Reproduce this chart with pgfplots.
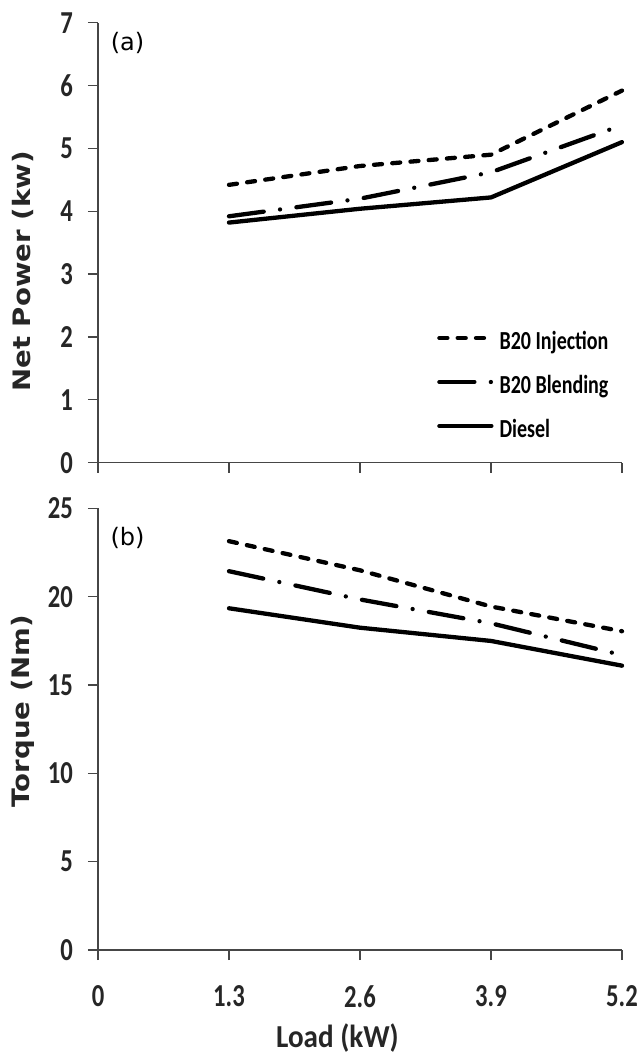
\documentclass[border=0pt]{standalone}
\usepackage{fontspec}
\setmainfont{Carlito}
\usepackage{pgfplots}
\pgfplotsset{compat=1.18}
\newfontfamily\tickf[FakeStretch=0.77]{Carlito}
\newfontfamily\legf[FakeStretch=0.77]{Carlito}
\newfontfamily\loadf[FakeStretch=0.91]{Carlito}
\newfontfamily\labf[FakeStretch=1.15]{DejaVu Sans}
\newfontfamily\panf{DejaVu Sans}
\definecolor{axc}{RGB}{70,70,70}
\pgfplotsset{
 mybase/.style={
  scale only axis, width=524pt,
  xmin=0, xmax=5.2, xtick={0,1.3,2.6,3.9,5.2},
  axis lines=left, axis line style={-, line width=1.3pt, color=axc},
  tick align=outside, major tick length=10pt,
  tick style={line width=1.3pt, color=axc},
  clip=false,
  /pgf/number format/assume math mode=true,
  tick label style={font=\tickf\bfseries\fontsize{32}{37}\selectfont, text=black!85},
  yticklabel style={anchor=east, inner sep=0pt, xshift=-15pt},
  xticklabel style={anchor=north, inner sep=0pt, yshift=-25pt},
  legend image code/.code={\draw[#1, line cap=round] (0pt,0pt) -- (52pt,0pt);},
 },
 inj/.style={black, line width=4.3pt, line cap=round, line join=round, dash pattern=on 8pt off 10.3pt},
 ble/.style={black, line width=4.3pt, line cap=round, line join=round, dash pattern=on 35pt off 16.5pt on 0pt off 16.5pt},
 die/.style={black, line width=4.3pt, line cap=round, line join=round},
}
\begin{document}
\begin{tikzpicture}[x=1pt,y=1pt]
\useasboundingbox (-98,-105) rectangle (541,950);
% (a) Net power
\begin{axis}[mybase,
  at={(0pt,487.3pt)}, anchor=south west, height=440pt,
  ymin=0, ymax=7, ytick={0,1,2,3,4,5,6,7},
  xticklabels={},
  ylabel={Net Power (kw)},
  ylabel style={at={(rel axis cs:0,0.4345)}, anchor=center, yshift=75.5pt,
    font=\labf\bfseries\fontsize{24}{28}\selectfont, text=black!85},
  legend style={draw=none, fill=none, at={(rel axis cs:0.647,0.1834)}, anchor=west,
    inner sep=0pt, row sep=14pt, column sep=6pt,
    nodes={inner sep=0pt, text height=26pt, text depth=4pt},
    font=\legf\bfseries\fontsize{26}{30}\selectfont, cells={anchor=west}},
]
\addplot[inj] coordinates {(1.3,4.42) (2.6,4.72) (3.9,4.90) (5.2,5.92)};
\addlegendentry{B20 Injection}
\addplot[ble] coordinates {(1.3,3.92) (2.6,4.20) (3.9,4.62) (5.2,5.37)};
\addlegendentry{B20 Blending}
\addplot[die] coordinates {(1.3,3.82) (2.6,4.04) (3.9,4.22) (5.2,5.10)};
\addlegendentry{Diesel}
\node[font=\panf\fontsize{24}{28}\selectfont] at (rel axis cs:0.0563,0.955) {(a)};
\end{axis}
% (b) Torque
\begin{axis}[mybase,
  at={(0pt,0pt)}, anchor=south west, height=441.5pt,
  ymin=0, ymax=25, ytick={0,5,10,15,20,25},
  xticklabels={0,1.3,2.6,3.9,5.2},
  ylabel={Torque (Nm)},
  ylabel style={at={(rel axis cs:0,0.541)}, anchor=center, yshift=75.5pt,
    font=\labf\bfseries\fontsize{24}{28}\selectfont, text=black!85},
  xlabel={Load (kW)},
  xlabel style={at={(rel axis cs:0.457,0)}, anchor=base, yshift=-97pt,
    font=\loadf\bfseries\fontsize{32}{37}\selectfont, text=black!85},
]
\addplot[inj] coordinates {(1.3,23.15) (2.6,21.5) (3.9,19.45) (5.2,18.05)};
\addplot[ble] coordinates {(1.3,21.45) (2.6,19.85) (3.9,18.5) (5.2,16.7)};
\addplot[die] coordinates {(1.3,19.35) (2.6,18.25) (3.9,17.5) (5.2,16.1)};
\node[font=\panf\fontsize{24}{28}\selectfont] at (rel axis cs:0.0563,0.934) {(b)};
\end{axis}
\end{tikzpicture}
\end{document}
